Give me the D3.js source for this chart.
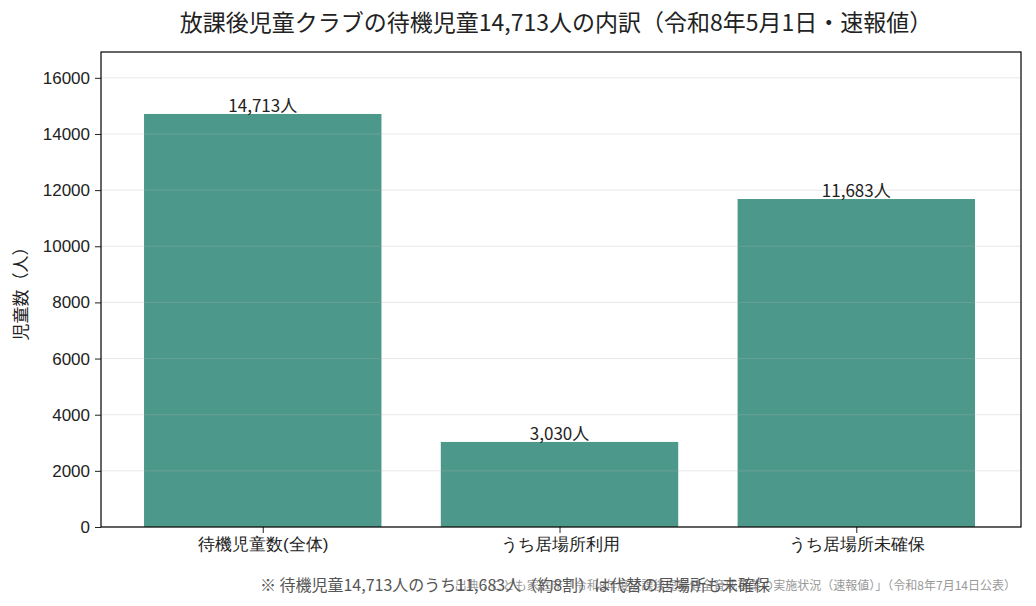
<!DOCTYPE html>
<html>
<head>
<meta charset="utf-8">
<script src="https://cdn.jsdelivr.net/npm/d3@7"></script>
<style>
  body { margin: 0; background: #fff; }
  svg { display: block; font-family: "Noto Sans CJK JP", "Noto Sans", sans-serif; }
</style>
</head>
<body>
<div id="chart"></div>
<script>
// data
const categories = ['待機児童数(全体)', 'うち居場所利用', 'うち居場所未確保'];
const values = [14713, 3030, 11683];
const valueLabels = ['14,713人', '3,030人', '11,683人'];
const yTicks = [0, 2000, 4000, 6000, 8000, 10000, 12000, 14000, 16000];

const title = '放課後児童クラブの待機児童14,713人の内訳（令和8年5月1日・速報値）';
const yLabel = '児童数（人）';
const note = '※ 待機児童14,713人のうち11,683人（約8割）は代替の居場所も未確保';
const source = '出典：こども家庭庁「令和8年度放課後児童健全育成事業の実施状況（速報値）」（令和8年7月14日公表）';

const width = 1036, height = 606;
const margin = { top: 52, right: 15, bottom: 79, left: 101 };

const svg = d3.select('#chart').append('svg')
    .attr('width', width)
    .attr('height', height);

const x = d3.scaleLinear()
    .domain([-0.545, categories.length - 1 + 0.555])
    .range([margin.left, width - margin.right]);
const y = d3.scaleLinear()
    .domain([0, d3.max(values) * 1.15])
    .range([height - margin.bottom, margin.top]);
const barW = x(0.4) - x(-0.4);

// bars
svg.append('g')
    .selectAll('rect')
    .data(values)
    .enter()
    .append('rect')
    .attr('x', (d, i) => x(i) - barW / 2)
    .attr('y', d => y(d))
    .attr('width', barW)
    .attr('height', d => y(0) - y(d))
    .attr('fill', '#4c998b');

// grid lines (on top of the bars, faint)
svg.append('g')
    .attr('class', 'grid')
    .selectAll('line')
    .data(yTicks)
    .enter()
    .append('line')
    .attr('x1', margin.left)
    .attr('x2', width - margin.right)
    .attr('y1', d => y(d))
    .attr('y2', d => y(d))
    .attr('stroke', '#b0b0b0')
    .attr('stroke-opacity', 0.3)
    .attr('stroke-width', 1);

// value labels
svg.append('g')
    .selectAll('text')
    .data(values)
    .enter()
    .append('text')
    .attr('x', (d, i) => x(i))
    .attr('y', d => y(d) - 2)
    .attr('text-anchor', 'middle')
    .attr('font-size', 17)
    .attr('fill', '#222')
    .text((d, i) => valueLabels[i]);

// axes
const yAxis = svg.append('g')
    .attr('transform', `translate(${margin.left},0)`)
    .call(d3.axisLeft(y).tickValues(yTicks).tickSize(6).tickPadding(5).tickFormat(d3.format('d')));
yAxis.select('.domain').remove();
yAxis.selectAll('text').attr('font-size', 17).attr('fill', '#222').style('font-family', 'inherit');
yAxis.selectAll('line').attr('stroke', '#222');

const xAxis = svg.append('g')
    .attr('transform', `translate(0,${height - margin.bottom})`)
    .call(d3.axisBottom(x).tickValues(d3.range(categories.length)).tickSize(6).tickPadding(5)
        .tickFormat(i => categories[i]));
xAxis.select('.domain').remove();
xAxis.selectAll('text').attr('font-size', 17).attr('fill', '#222').style('font-family', 'inherit');
xAxis.selectAll('line').attr('stroke', '#222');

// frame
svg.append('rect')
    .attr('x', margin.left)
    .attr('y', margin.top)
    .attr('width', width - margin.left - margin.right)
    .attr('height', height - margin.top - margin.bottom)
    .attr('fill', 'none')
    .attr('stroke', '#000')
    .attr('stroke-width', 1.2);

// title
svg.append('text')
    .attr('x', 556)
    .attr('y', 31)
    .attr('text-anchor', 'middle')
    .attr('font-size', 23)
    .attr('fill', '#222')
    .text(title);

// y label
svg.append('text')
    .attr('transform', `translate(27,${(margin.top + height - margin.bottom) / 2}) rotate(-90)`)
    .attr('text-anchor', 'middle')
    .attr('font-size', 17)
    .attr('fill', '#222')
    .text(yLabel);

// footer texts (they overlap in the original)
svg.append('text')
    .attr('x', 1016)
    .attr('y', 590)
    .attr('text-anchor', 'end')
    .attr('font-size', 12)
    .attr('fill', '#999')
    .text(source);

svg.append('text')
    .attr('x', 515)
    .attr('y', 591)
    .attr('text-anchor', 'middle')
    .attr('font-size', 16)
    .attr('fill', '#555')
    .text(note);
</script>
</body>
</html>
